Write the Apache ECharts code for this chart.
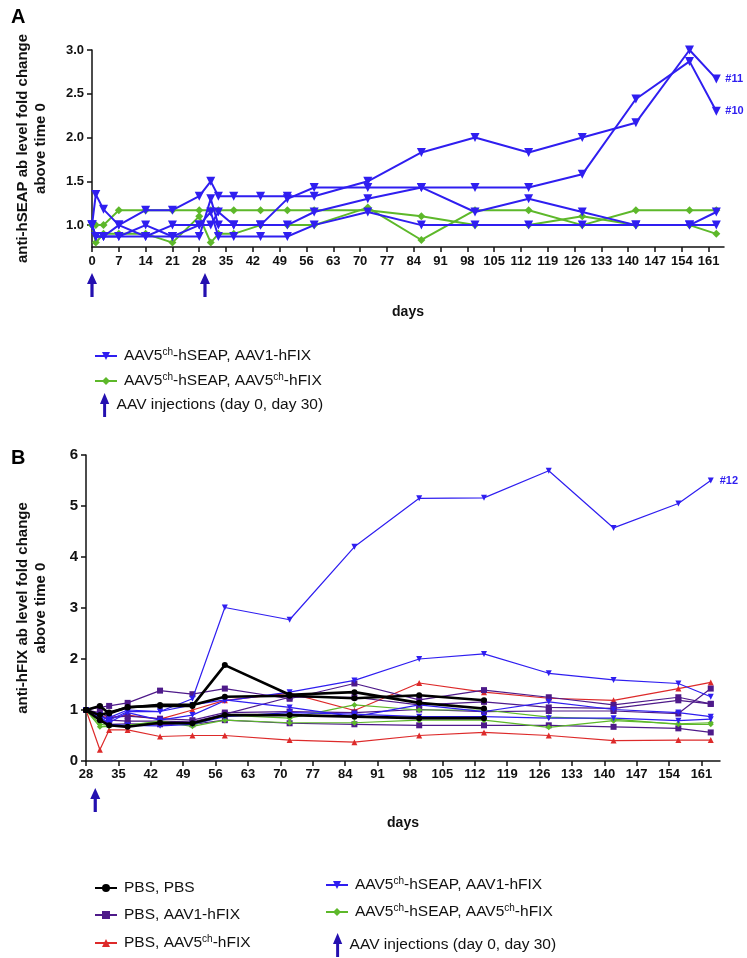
<!DOCTYPE html>
<html>
<head>
<meta charset="utf-8">
<script src="https://cdn.jsdelivr.net/npm/echarts@6/dist/echarts.min.js"></script>
<style>
html,body{margin:0;padding:0;background:#fff;}
#c{width:747px;height:958px;}
</style>
</head>
<body>
<div id="c"></div>
<script>
// ---------- Panel A data ----------
const daysA = [0, 1, 3, 7, 14, 21, 28, 31, 33, 37, 44, 51, 58, 72, 86, 100, 114, 128, 142, 156, 163];
const ticksA_x = [0, 7, 14, 21, 28, 35, 42, 49, 56, 63, 70, 77, 84, 91, 98, 105, 112, 119, 126, 133, 140, 147, 154, 161];
const ticksA_y = [1.0, 1.5, 2.0, 2.5, 3.0];
const aBlue10 = [1.0, 1.35, 1.18, 1.0, 0.87, 0.87, 0.87, 1.3, 1.0, 1.0, 1.0, 1.3, 1.43, 1.43, 1.43, 1.43, 1.43, 1.58, 2.44, 2.87, 2.3];
const aBlue11 = [1.0, 0.87, 0.87, 1.0, 1.17, 1.17, 1.33, 1.5, 1.33, 1.33, 1.33, 1.33, 1.33, 1.5, 1.83, 2.0, 1.83, 2.0, 2.17, 3.0, 2.67];
const aBlue3  = [1.0, 0.87, 0.87, 0.87, 1.0, 0.87, 1.0, 1.0, 1.15, 1.0, 1.0, 1.0, 1.15, 1.3, 1.43, 1.15, 1.3, 1.15, 1.0, 1.0, 1.15];
const aBlue4  = [1.0, 0.87, 0.87, 0.87, 0.87, 1.0, 1.0, 1.15, 0.87, 0.87, 0.87, 0.87, 1.0, 1.15, 1.0, 1.0, 1.0, 1.0, 1.0, 1.0, 1.0];
const aGreen1 = [1.0, 1.0, 1.0, 1.17, 1.17, 1.17, 1.17, 1.17, 1.17, 1.17, 1.17, 1.17, 1.17, 1.17, 1.1, 1.0, 1.0, 1.1, 1.0, 1.0, 0.9];
const aGreen2 = [1.0, 0.8, 0.9, 0.9, 0.9, 0.8, 1.1, 0.8, 0.9, 0.9, 1.0, 1.0, 1.0, 1.2, 0.83, 1.17, 1.17, 1.0, 1.17, 1.17, 1.17];
const injectionsA = [0, 29.5];

// ---------- Panel B data ----------
const daysB = [28, 31, 33, 37, 44, 51, 58, 72, 86, 100, 114, 128, 142, 156, 163];
const ticksB_x = [28, 35, 42, 49, 56, 63, 70, 77, 84, 91, 98, 105, 112, 119, 126, 133, 140, 147, 154, 161];
const bBlack1 = [1.0, 1.08, 0.93, 1.06, 1.08, 1.08, 1.88, 1.3, 1.35, 1.14, 1.03];
const bBlack2 = [1.0, 0.9, 0.95, 1.05, 1.1, 1.1, 1.26, 1.28, 1.23, 1.29, 1.19];
const bBlack3 = [1.0, 0.8, 0.7, 0.67, 0.75, 0.74, 0.9, 0.9, 0.87, 0.84, 0.84];
const bPurple1 = [1.0, 1.05, 1.08, 1.14, 1.38, 1.31, 1.42, 1.22, 1.52, 1.2, 1.39, 1.25, 1.1, 1.25, 1.12];
const bPurple2 = [1.0, 0.95, 0.85, 0.88, 0.83, 0.8, 0.95, 0.97, 0.95, 1.01, 0.97, 0.98, 0.98, 0.93, 1.42];
const bPurple3 = [1.0, 0.9, 0.8, 0.78, 0.78, 0.77, 0.92, 1.25, 1.25, 1.1, 1.16, 1.05, 1.03, 1.19, 1.12];
const bPurple4 = [1.0, 0.85, 0.72, 0.73, 0.72, 0.72, 0.8, 0.74, 0.72, 0.7, 0.7, 0.7, 0.67, 0.64, 0.56];
const bRed1 = [1.0, 0.22, 0.61, 0.61, 0.48, 0.5, 0.5, 0.41, 0.37, 0.5, 0.56, 0.5, 0.4, 0.41, 0.41];
const bRed2 = [1.0, 0.88, 0.85, 0.9, 0.82, 1.0, 1.19, 1.33, 0.99, 1.53, 1.35, 1.23, 1.19, 1.42, 1.54];
const bBlue12 = [1.0, 0.8, 0.85, 1.0, 0.97, 1.22, 3.01, 2.77, 4.2, 5.15, 5.16, 5.69, 4.57, 5.05, 5.5];
const bBlue2 = [1.0, 0.85, 0.75, 0.95, 0.8, 0.9, 1.18, 1.35, 1.58, 2.0, 2.1, 1.72, 1.59, 1.52, 1.26];
const bBlue3 = [1.0, 0.9, 0.8, 0.97, 0.97, 1.1, 1.2, 1.05, 0.87, 1.1, 0.97, 1.16, 1.01, 0.95, 0.87];
const bBlue4 = [1.0, 0.8, 0.72, 0.7, 0.69, 0.72, 0.87, 0.95, 0.92, 0.87, 0.87, 0.84, 0.84, 0.79, 0.82];
const bGreen1 = [1.0, 0.72, 0.7, 0.7, 0.78, 0.7, 0.9, 0.84, 1.1, 1.0, 1.0, 0.86, 0.82, 0.72, 0.72];
const bGreen2 = [1.0, 0.67, 0.68, 0.7, 0.77, 0.68, 0.8, 0.75, 0.75, 0.8, 0.8, 0.66, 0.79, 0.73, 0.75];
const injectionsB = [30];

// ---------- names ----------
const N_SEAP_AAV1 = 'AAV5ch-hSEAP, AAV1-hFIX';
const N_SEAP_AAV5 = 'AAV5ch-hSEAP, AAV5ch-hFIX';
const N_INJ = 'AAV injections (day 0, day 30)';
const N_PBS = 'PBS, PBS';
const N_PBS_AAV1 = 'PBS, AAV1-hFIX';
const N_PBS_AAV5 = 'PBS, AAV5ch-hFIX';
const ZW = '\u200b'; // distinguishes panel B series names

const FONT = '"Liberation Sans", Arial, sans-serif';
const C_BLUE = '#2F1EF0';
const C_GREEN = '#5DB82A';
const C_PURPLE = '#4E1A8A';
const C_RED = '#DD2A2A';
const C_BLACK = '#000000';
const C_ARROW = '#2410B0';
const ARROW = 'path://M5,0 L10,12 L6.6,12 L6.6,26 L3.4,26 L3.4,12 L0,12 Z';

function pairs(days, vals) { return vals.map((v, i) => [days[i], v]); }

function line(name, days, vals, o) {
  const s = {
    type: 'line', name: name, data: pairs(days, vals),
    xAxisIndex: o.ax, yAxisIndex: o.ax,
    symbol: o.symbol, symbolSize: o.size, symbolRotate: o.rotate || 0,
    lineStyle: { color: o.color, width: o.width },
    itemStyle: { color: o.color },
    z: o.z || 2, animation: false
  };
  if (o.end) {
    s.endLabel = { show: true, formatter: o.end, color: o.color, fontWeight: 'bold',
      fontSize: 11, fontFamily: FONT, distance: 9 };
  }
  return s;
}

const A = { ax: 0 };
const blueA = Object.assign({}, A, { color: C_BLUE, symbol: 'triangle', rotate: 180, size: 9, width: 2, z: 3 });
const greenA = Object.assign({}, A, { color: C_GREEN, symbol: 'diamond', size: 8, width: 2 });
const B = { ax: 1 };
const blackB = Object.assign({}, B, { color: C_BLACK, symbol: 'circle', size: 6, width: 2.6, z: 6 });
const purpleB = Object.assign({}, B, { color: C_PURPLE, symbol: 'rect', size: 6, width: 1.2, z: 3 });
const redB = Object.assign({}, B, { color: C_RED, symbol: 'triangle', size: 6, width: 1.2, z: 3 });
const blueB = Object.assign({}, B, { color: C_BLUE, symbol: 'triangle', rotate: 180, size: 6, width: 1.2, z: 4 });
const greenB = Object.assign({}, B, { color: C_GREEN, symbol: 'diamond', size: 6, width: 1.2, z: 4 });

const series = [
  line(N_SEAP_AAV5, daysA, aGreen1, greenA),
  line(N_SEAP_AAV5, daysA, aGreen2, greenA),
  line(N_SEAP_AAV1, daysA, aBlue3, blueA),
  line(N_SEAP_AAV1, daysA, aBlue4, blueA),
  line(N_SEAP_AAV1, daysA, aBlue10, Object.assign({}, blueA, { end: '#10' })),
  line(N_SEAP_AAV1, daysA, aBlue11, Object.assign({}, blueA, { end: '#11' })),
  {
    type: 'scatter', name: N_INJ, xAxisIndex: 0, yAxisIndex: 0,
    data: injectionsA.map(d => [d, 0.75]), symbol: ARROW, symbolSize: [10, 24],
    symbolOffset: [0, 38], clip: false, silent: true,
    itemStyle: { color: C_ARROW, opacity: 1 }, animation: false
  },
  line(N_PBS_AAV5 + ZW, daysB, bRed1, redB),
  line(N_PBS_AAV5 + ZW, daysB, bRed2, redB),
  line(N_PBS_AAV1 + ZW, daysB, bPurple1, purpleB),
  line(N_PBS_AAV1 + ZW, daysB, bPurple2, purpleB),
  line(N_PBS_AAV1 + ZW, daysB, bPurple3, purpleB),
  line(N_PBS_AAV1 + ZW, daysB, bPurple4, purpleB),
  line(N_SEAP_AAV5 + ZW, daysB, bGreen1, greenB),
  line(N_SEAP_AAV5 + ZW, daysB, bGreen2, greenB),
  line(N_SEAP_AAV1 + ZW, daysB, bBlue2, blueB),
  line(N_SEAP_AAV1 + ZW, daysB, bBlue3, blueB),
  line(N_SEAP_AAV1 + ZW, daysB, bBlue4, blueB),
  line(N_SEAP_AAV1 + ZW, daysB, bBlue12, Object.assign({}, blueB, { end: '#12' })),
  line(N_PBS + ZW, daysB, bBlack1, blackB),
  line(N_PBS + ZW, daysB, bBlack2, blackB),
  line(N_PBS + ZW, daysB, bBlack3, blackB),
  {
    type: 'scatter', name: N_INJ + ZW, xAxisIndex: 1, yAxisIndex: 1,
    data: injectionsB.map(d => [d, 0]), symbol: ARROW, symbolSize: [10, 24],
    symbolOffset: [0, 39], clip: false, silent: true,
    itemStyle: { color: C_ARROW, opacity: 1 }, animation: false
  }
];

function richName(name) {
  return name.replace(ZW, '').replace(/ch-/g, '{sup|ch}-');
}
const legendText = {
  fontFamily: FONT, fontSize: 15.5, color: '#111', padding: [0, 0, 0, 2],
  rich: { sup: { fontSize: 10, fontFamily: FONT, color: '#111', padding: [0, 0, 8, 0] } }
};
// one legend component per row, so each row can be placed like the reference
function row(name, left, centerY, arrow) {
  const h = arrow ? 24 : 10;
  return {
    orient: 'horizontal', left: left, top: centerY - (arrow ? 12 : 9), padding: 0,
    data: [arrow ? { name: name, icon: ARROW } : name],
    itemWidth: arrow ? 10 : 22, itemHeight: h, itemGap: 0,
    formatter: richName, textStyle: legendText, selectedMode: false
  };
}

const axisLineStyle = { show: true, lineStyle: { color: '#111', width: 1.5 } };

const option = {
  animation: false,
  backgroundColor: '#fff',
  title: [
    { text: 'A', left: 6, top: 2, textStyle: { fontFamily: FONT, fontWeight: 'bold', fontSize: 20, color: '#000' } },
    { text: 'B', left: 6, top: 443, textStyle: { fontFamily: FONT, fontWeight: 'bold', fontSize: 20, color: '#000' } }
  ],
  grid: [
    { left: 92, top: 50, width: 632, height: 197 },
    { left: 86, top: 455, width: 634, height: 306 }
  ],
  xAxis: [
    {
      type: 'value', gridIndex: 0, min: 0, max: 165,
      axisLine: axisLineStyle,
      axisTick: { show: true, length: 5, customValues: ticksA_x, lineStyle: { color: '#111', width: 1.5 } },
      axisLabel: { customValues: ticksA_x, fontFamily: FONT, fontWeight: 'bold', fontSize: 13, color: '#111', margin: 8 },
      splitLine: { show: false },
      name: 'days', nameLocation: 'middle', nameGap: 58,
      nameTextStyle: { fontFamily: FONT, fontWeight: 'bold', fontSize: 14, color: '#111' }
    },
    {
      type: 'value', gridIndex: 1, min: 28, max: 165,
      axisLine: axisLineStyle,
      axisTick: { show: true, length: 5, customValues: ticksB_x, lineStyle: { color: '#111', width: 1.5 } },
      axisLabel: { customValues: ticksB_x, fontFamily: FONT, fontWeight: 'bold', fontSize: 13, color: '#111', margin: 7 },
      splitLine: { show: false },
      name: 'days', nameLocation: 'middle', nameGap: 55,
      nameTextStyle: { fontFamily: FONT, fontWeight: 'bold', fontSize: 14, color: '#111' }
    }
  ],
  yAxis: [
    {
      type: 'value', gridIndex: 0, min: 0.75, max: 3.0,
      axisLine: axisLineStyle,
      axisTick: { show: true, length: 5, customValues: ticksA_y, lineStyle: { color: '#111', width: 1.5 } },
      axisLabel: { customValues: ticksA_y, formatter: v => v.toFixed(1), fontFamily: FONT, fontWeight: 'bold', fontSize: 13, color: '#111', margin: 8 },
      splitLine: { show: false },
      name: 'anti-hSEAP ab level fold change\nabove time 0', nameLocation: 'middle', nameRotate: 90, nameGap: 42,
      nameTextStyle: { fontFamily: FONT, fontWeight: 'bold', fontSize: 15, lineHeight: 18, color: '#111' }
    },
    {
      type: 'value', gridIndex: 1, min: 0, max: 6, interval: 1,
      axisLine: axisLineStyle,
      axisTick: { show: true, length: 5, lineStyle: { color: '#111', width: 1.5 } },
      axisLabel: { fontFamily: FONT, fontWeight: 'bold', fontSize: 15, color: '#111', margin: 8 },
      splitLine: { show: false },
      name: 'anti-hFIX ab level fold change\nabove time 0', nameLocation: 'middle', nameRotate: 90, nameGap: 36,
      nameTextStyle: { fontFamily: FONT, fontWeight: 'bold', fontSize: 15, lineHeight: 18, color: '#111' }
    }
  ],
  legend: [
    row(N_SEAP_AAV1, 94, 356),
    row(N_SEAP_AAV5, 94, 381),
    row(N_INJ, 100, 405, true),
    row(N_PBS + ZW, 94, 889),
    row(N_PBS_AAV1 + ZW, 94, 916),
    row(N_PBS_AAV5 + ZW, 94, 943),
    row(N_SEAP_AAV1 + ZW, 325, 885),
    row(N_SEAP_AAV5 + ZW, 325, 912),
    row(N_INJ + ZW, 333, 945, true)
  ],
  series: series
};

const chart = echarts.init(document.getElementById('c'), null, { renderer: 'canvas' });
chart.setOption(option);
</script>
</body>
</html>
